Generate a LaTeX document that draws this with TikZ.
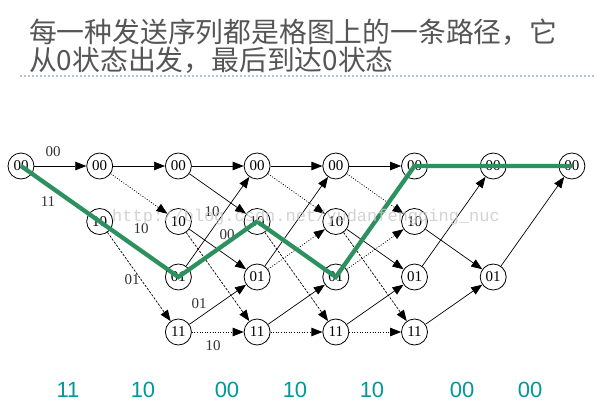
\documentclass[tikz,border=0pt]{standalone}
\usepackage{fontspec}
\setmainfont{Liberation Serif}
\newfontfamily\cjk{Noto Sans CJK SC}
\newfontfamily\arial{Liberation Sans}
\newfontfamily\mono{Liberation Mono}
\usetikzlibrary{arrows.meta}
\definecolor{pathgreen}{RGB}{44,145,95}
\definecolor{teallbl}{RGB}{0,153,153}
\definecolor{titlegray}{RGB}{85,85,85}
\definecolor{sepblue}{RGB}{180,196,220}
\definecolor{wmgray}{RGB}{200,200,200}
\begin{document}
\begin{tikzpicture}[x=1pt,y=-1pt,
  st/.style={circle,draw,fill=white,line width=0.8pt,minimum size=26pt,inner sep=0pt,font=\fontsize{15}{15}\selectfont},
  tr/.style={line width=0.7pt,-{Triangle[length=11pt,width=8.5pt]}},
  dotedge/.style={tr,dash pattern=on 1pt off 1.6pt},
  dashedge/.style={tr,dash pattern=on 2.4pt off 1.4pt},
  lbl/.style={font=\fontsize{15}{15}\selectfont,text=black!80},
  bot/.style={font=\arial\fontsize{22}{22}\selectfont,text=teallbl},
  green/.style={line width=4.3pt,draw=pathgreen,line join=miter}]
\useasboundingbox (0,0) rectangle (595,408);
% title
\node[anchor=base west,inner sep=0pt,text=titlegray,font=\cjk\fontsize{27.8}{27.8}\selectfont] (t1) at (29,42) {每一种发送序列都是格图上的一条路径，它};
\node[anchor=base west,inner sep=0pt,text=titlegray,font=\cjk\fontsize{27.8}{27.8}\selectfont] (t2) at (29,70) {从0状态出发，最后到达0状态};
\coordinate (sl) at (20,76);
\coordinate (sr) at (595,76);
\draw[sepblue,line width=1.2pt,dash pattern=on 2pt off 2pt] (sl) -- (sr);
% states
\node[st] (c0a) at (21,166) {00};
\node[st] (c1a) at (99.7,166) {00};
\node[st] (c1b) at (99.7,221.5) {10};
\foreach \i/\x in {2/178.4,3/257.1,4/335.8,5/414.5}{
  \node[st] (c\i a) at (\x,166) {00};
  \node[st] (c\i b) at (\x,221.5) {10};
  \node[st] (c\i c) at (\x,277) {01};
  \node[st] (c\i d) at (\x,332) {11};
}
\node[st] (c6a) at (493.2,166) {00};
\node[st] (c6c) at (493.2,277) {01};
\node[st] (c7a) at (571.9,166) {00};
% edges
\draw[tr] (c0a) -- (c1a);
\draw[tr] (c1a) -- (c2a);
\draw[dotedge] (c1a) -- (c2b);
\draw[dashedge] (c1b) -- (c2d);
\draw[tr] (c2a) -- (c3a);
\draw[tr] (c2a) -- (c3b);
\draw[tr] (c2b) -- (c3c);
\draw[dashedge] (c2b) -- (c3d);
\draw[tr] (c2c) -- (c3a);
\draw[tr] (c2d) -- (c3c);
\draw[dotedge] (c2d) -- (c3d);
\draw[tr] (c3a) -- (c4a);
\draw[dotedge] (c3a) -- (c4b);
\draw[dashedge] (c3b) -- (c4d);
\draw[tr] (c3c) -- (c4a);
\draw[dotedge] (c3c) -- (c4b);
\draw[tr] (c3d) -- (c4c);
\draw[dotedge] (c3d) -- (c4d);
\draw[tr] (c4a) -- (c5a);
\draw[dotedge] (c4a) -- (c5b);
\draw[tr] (c4b) -- (c5c);
\draw[dashedge] (c4b) -- (c5d);
\draw[dotedge] (c4c) -- (c5b);
\draw[tr] (c4d) -- (c5c);
\draw[dotedge] (c4d) -- (c5d);
\draw[tr] (c5b) -- (c6c);
\draw[tr] (c5c) -- (c6a);
\draw[tr] (c5d) -- (c6c);
\draw[tr] (c6c) -- (c7a);
% edge labels
\node[lbl] (l1) at (53,152) {00};
\node[lbl] (l2) at (48,202) {11};
\node[lbl] (l3) at (141,229) {10};
\node[lbl] (l4) at (132,280) {01};
\node[lbl] (l5) at (212,212) {10};
\node[lbl] (l6) at (227,235) {00};
\node[lbl] (l7) at (199,304) {01};
\node[lbl] (l8) at (213,346) {10};
% survivor path
\draw[green] (c0a.center) -- (c2c.center) -- (c3b.center) -- (c4c.center) -- (c5a.center) -- (c7a.center);
% watermark
\node[anchor=base west,inner sep=0pt,text=wmgray,opacity=0.8,font=\mono\fontsize{17}{17}\selectfont] (wm) at (112,221) {http://blog.csdn.net/yudanfengqing\_nuc};
% bottom sequence
\node[bot] (b1) at (68,390) {11};
\node[bot] (b2) at (143,390) {10};
\node[bot] (b3) at (227,390) {00};
\node[bot] (b4) at (295,390) {10};
\node[bot] (b5) at (372,390) {10};
\node[bot] (b6) at (462,390) {00};
\node[bot] (b7) at (530,390) {00};
\end{tikzpicture}
\end{document}
